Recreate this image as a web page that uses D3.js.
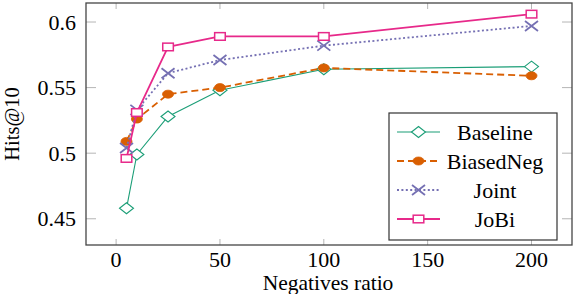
<!DOCTYPE html>
<html>
<head>
<meta charset="utf-8">
<script src="https://cdn.jsdelivr.net/npm/d3@7"></script>
<style>
  html, body { margin: 0; padding: 0; background: #fff; }
</style>
</head>
<body>
<div id="chart"></div>
<script>
// data
const ratios = [5, 10, 25, 50, 100, 200];
const baseline = [0.458, 0.499, 0.528, 0.548, 0.564, 0.566];
const biasedNeg = [0.509, 0.526, 0.545, 0.550, 0.565, 0.559];
const joint = [0.504, 0.533, 0.561, 0.571, 0.582, 0.597];
const jobi = [0.496, 0.531, 0.581, 0.589, 0.589, 0.606];
const xTicks = [0, 50, 100, 150, 200];
const yTicks = [0.45, 0.5, 0.55, 0.6];

const series = [
    { name: "Baseline", values: baseline, color: "#1b9e77", width: 1.1, dash: null, marker: "diamond" },
    { name: "BiasedNeg", values: biasedNeg, color: "#d95f02", width: 1.8, dash: "7,4", marker: "circle" },
    { name: "Joint", values: joint, color: "#7570b3", width: 1.8, dash: "2,2.4", marker: "cross" },
    { name: "JoBi", values: jobi, color: "#e7298a", width: 1.8, dash: null, marker: "square" }
];

const W = 574, H = 294;
const plot = { left: 86, right: 572, top: 3, bottom: 245 };

const svg = d3.select("#chart").append("svg")
    .attr("width", W).attr("height", H);

const x = d3.scaleLinear().domain([-14.5, 219.5]).range([plot.left, plot.right]);
const y = d3.scaleLinear().domain([0.430, 0.6145]).range([plot.bottom, plot.top]);

function addText(parent, str, size) {
    return parent.append("text")
        .style("font-family", "'Liberation Serif'")
        .style("font-size", size + "px")
        .attr("fill", "#000")
        .text(str);
}

// tick marks (inside, on all four sides)
const tickColor = "#b5b5b5";
const g = svg.append("g");
xTicks.forEach(t => {
    g.append("line").attr("x1", x(t)).attr("x2", x(t))
        .attr("y1", plot.bottom).attr("y2", plot.bottom - 6)
        .attr("stroke", tickColor).attr("stroke-width", 1);
    g.append("line").attr("x1", x(t)).attr("x2", x(t))
        .attr("y1", plot.top).attr("y2", plot.top + 6)
        .attr("stroke", tickColor).attr("stroke-width", 1);
    addText(g, t, 22).attr("x", x(t)).attr("y", 267)
        .attr("text-anchor", "middle");
});
yTicks.forEach(t => {
    g.append("line").attr("x1", plot.left).attr("x2", plot.left + 10)
        .attr("y1", y(t)).attr("y2", y(t))
        .attr("stroke", tickColor).attr("stroke-width", 1);
    g.append("line").attr("x1", plot.right).attr("x2", plot.right - 10)
        .attr("y1", y(t)).attr("y2", y(t))
        .attr("stroke", tickColor).attr("stroke-width", 1);
    addText(g, String(t), 22).attr("x", 76).attr("y", y(t) + 7.5)
        .attr("text-anchor", "end");
});

// axis labels
addText(svg, "Negatives ratio", 21.5).attr("x", 328).attr("y", 290)
    .attr("text-anchor", "middle");
addText(svg, "Hits@10", 20.5)
    .attr("transform", `translate(18.5,124) rotate(-90)`)
    .attr("text-anchor", "middle");

// marker drawing
function drawMarker(sel, kind, color) {
    if (kind === "diamond") {
        sel.append("path").attr("d", "M-7,0L0,-5.5L7,0L0,5.5Z")
            .attr("fill", "#fff").attr("stroke", color).attr("stroke-width", 1.1);
    } else if (kind === "circle") {
        sel.append("ellipse").attr("rx", 5.5).attr("ry", 4)
            .attr("fill", color).attr("stroke", color).attr("stroke-width", 0.8);
    } else if (kind === "cross") {
        sel.append("path").attr("d", "M-6.5,-5L6.5,5M-6.5,5L6.5,-5")
            .attr("fill", "none").attr("stroke", color).attr("stroke-width", 1.8);
    } else if (kind === "square") {
        sel.append("rect").attr("x", -5.3).attr("y", -3.8).attr("width", 10.6).attr("height", 7.6)
            .attr("fill", "#fff").attr("stroke", color).attr("stroke-width", 1.5);
    }
}

const line = d3.line().x(d => x(d[0])).y(d => y(d[1]));

const plotG = svg.append("g");
series.forEach(s => {
    const pts = ratios.map((r, i) => [r, s.values[i]]);
    plotG.append("path").datum(pts)
        .attr("d", line)
        .attr("fill", "none")
        .attr("stroke", s.color)
        .attr("stroke-width", s.width)
        .attr("stroke-dasharray", s.dash)
        .attr("stroke-linejoin", "round");
    pts.forEach(p => {
        const m = plotG.append("g").attr("transform", `translate(${x(p[0])},${y(p[1])})`);
        drawMarker(m, s.marker, s.color);
    });
});

// frame
svg.append("rect")
    .attr("x", plot.left).attr("y", plot.top)
    .attr("width", plot.right - plot.left).attr("height", plot.bottom - plot.top)
    .attr("fill", "none").attr("stroke", "#454545").attr("stroke-width", 1.3);

// legend
const legend = svg.append("g");
legend.append("rect")
    .attr("x", 389).attr("y", 113).attr("width", 168).attr("height", 127)
    .attr("fill", "#fff").attr("stroke", "#333").attr("stroke-width", 1.2);
series.forEach((s, i) => {
    const cy = 132 + i * 29;
    legend.append("line")
        .attr("x1", 397).attr("x2", 440).attr("y1", cy).attr("y2", cy)
        .attr("stroke", s.color).attr("stroke-width", s.width)
        .attr("stroke-dasharray", s.dash);
    const m = legend.append("g").attr("transform", `translate(418.5,${cy})`);
    drawMarker(m, s.marker, s.color);
    addText(legend, s.name, 22).attr("x", 495).attr("y", cy + 7.5)
        .attr("text-anchor", "middle");
});
</script>
</body>
</html>
